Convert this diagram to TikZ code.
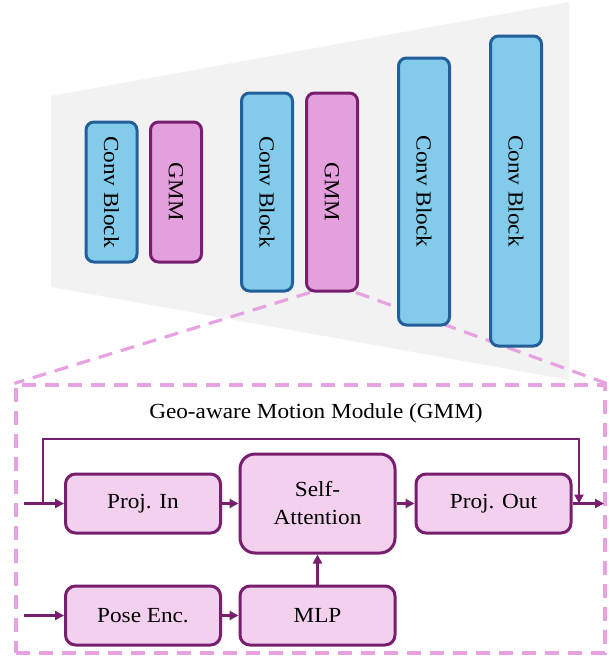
\documentclass[tikz,border=0pt]{standalone}
\usepackage{fontspec}
\usetikzlibrary{arrows.meta,calc,backgrounds}
\newfontfamily\figfont[FakeStretch=1.08]{Liberation Serif}
\definecolor{convF}{RGB}{130,203,235}
\definecolor{convD}{RGB}{35,95,155}
\definecolor{gmmF}{RGB}{228,160,221}
\definecolor{gmmD}{RGB}{120,30,110}
\definecolor{modF}{RGB}{242,208,238}
\definecolor{zoomP}{RGB}{232,162,226}
\definecolor{shadeG}{RGB}{242,242,242}

\begin{document}
\begin{tikzpicture}[x=1pt,y=-1pt,
  txt/.style={font=\figfont\fontsize{21.5}{28}\selectfont},
  blk/.style={txt,rounded corners=8pt,line width=3pt,minimum width=51pt,inner sep=0pt},
  conv/.style={blk,draw=convD,fill=convF},
  gmm/.style={blk,draw=gmmD,fill=gmmF},
  mod/.style={txt,draw=gmmD,fill=modF,line width=3pt,rounded corners=10pt,
     minimum width=155pt,minimum height=59pt,inner sep=0pt,align=center},
  flow/.style={draw=gmmD,line width=2.6pt,-{Triangle[length=9pt,width=9pt]}},
  zoomline/.style={draw=zoomP,line width=3.2pt,dash pattern=on 14pt off 9pt}]
\useasboundingbox (0,0) rectangle (610,656);
% encoder blocks
\def\vtext#1{\rotatebox{-90}{#1}}
\node[conv,minimum height=140pt] (conv1) at (111.5,192) {\vtext{Conv Block}};
\node[gmm,minimum height=140pt] (gmm1) at (176,192) {\vtext{GMM}};
\node[conv,minimum height=198pt] (conv2) at (267,192) {\vtext{Conv Block}};
\node[gmm,minimum height=198pt] (gmm2) at (332,192) {\vtext{GMM}};
\node[conv,minimum height=267pt] (conv3) at (424,191.5) {\vtext{Conv Block}};
\node[conv,minimum height=310pt] (conv4) at (516,191) {\vtext{Conv Block}};
% module detail
\node[zoomline,minimum width=589pt,minimum height=268pt,inner sep=0pt] (gmmbox) at (310.5,519) {};
\node[txt,anchor=base] (title) at (316,418) {Geo-aware Motion Module (GMM)};
\node[mod] (projin) at (143,503.5) {Proj. In};
\node[mod,minimum height=99pt,rounded corners=15pt] (selfatt) at (317.5,503.5) {Self-\\Attention};
\node[mod] (projout) at (493.5,503.5) {Proj. Out};
\node[mod] (pose) at (143,615.5) {Pose Enc.};
\node[mod] (mlp) at (317.5,615.5) {MLP};
\coordinate (in1) at (24,503.5);
\coordinate (in2) at (24,615.5);
\coordinate (out) at (604,503.5);
\coordinate (skipl) at (43,439);
\coordinate (skipr) at (579,439);
\draw[flow] (in1) -- (projin);
\draw[flow] (skipl |- in1) -- (skipl) -- (skipr) -- (skipr |- projout.east);
\draw[flow] (projin) -- (selfatt);
\draw[flow] (selfatt) -- (projout);
\draw[flow] (projout) -- (out);
\draw[flow] (in2) -- (pose);
\draw[flow] (pose) -- (mlp);
\draw[flow] (mlp) -- (selfatt);
\begin{scope}[on background layer]
  \fill[shadeG] (51,96) -- (569,2) -- (569,380) -- (51,287) -- cycle;
  \draw[zoomline] ($(gmm2.south west)+(5,0)$) -- (gmmbox.north west);
  \draw[zoomline] ($(gmm2.south east)+(-3,0)$) -- (gmmbox.north east);
\end{scope}
\end{tikzpicture}
\end{document}
